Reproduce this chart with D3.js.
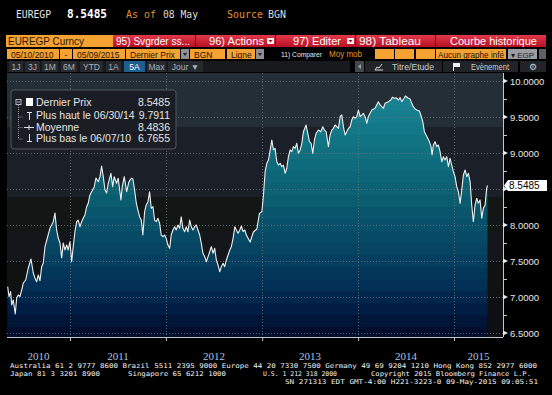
<!DOCTYPE html>
<html><head><meta charset="utf-8">
<script src="https://cdn.jsdelivr.net/npm/d3@7"></script>
<style>body{margin:0;background:#000;overflow:hidden}svg{display:block}</style>
</head><body><svg id="c" width="552" height="395"></svg>
<script>
// ---- DATA (dates as decimal years, EUR/EGP last price) ----
const dates = [
2010.351,2010.365,2010.382,2010.393,2010.409,2010.430,2010.445,2010.461,2010.479,2010.497,
2010.514,2010.539,2010.566,2010.594,2010.618,2010.635,2010.653,2010.670,2010.688,2010.705,
2010.722,2010.740,2010.768,2010.792,2010.809,2010.826,2010.844,2010.861,2010.878,2010.896,
2010.914,2010.930,2010.948,2010.966,2010.982,2011.000,2011.018,2011.034,2011.052,2011.070,
2011.086,2011.104,2011.122,2011.139,2011.156,2011.174,2011.191,2011.208,2011.226,2011.253,
2011.271,2011.295,2011.313,2011.330,2011.347,2011.365,2011.382,2011.399,2011.427,2011.445,
2011.461,2011.486,2011.503,2011.531,2011.545,2011.566,2011.591,2011.615,2011.639,2011.656,
2011.674,2011.691,2011.708,2011.726,2011.743,2011.760,2011.778,2011.795,2011.813,2011.830,
2011.847,2011.865,2011.882,2011.899,2011.917,2011.934,2011.951,2011.969,2011.986,2012.003,
2012.021,2012.039,2012.055,2012.073,2012.091,2012.107,2012.125,2012.143,2012.159,2012.177,
2012.195,2012.211,2012.229,2012.247,2012.264,2012.281,2012.299,2012.316,2012.333,2012.351,
2012.368,2012.385,2012.403,2012.420,2012.438,2012.455,2012.472,2012.490,2012.507,2012.524,
2012.542,2012.559,2012.576,2012.594,2012.611,2012.628,2012.646,2012.664,2012.680,2012.698,
2012.716,2012.732,2012.750,2012.768,2012.784,2012.802,2012.820,2012.836,2012.854,2012.875,
2012.909,2012.945,2012.972,2012.997,2013.014,2013.031,2013.049,2013.066,2013.101,2013.118,
2013.135,2013.153,2013.170,2013.188,2013.205,2013.222,2013.240,2013.257,2013.274,2013.292,
2013.309,2013.326,2013.344,2013.361,2013.378,2013.396,2013.414,2013.430,2013.458,2013.476,
2013.493,2013.510,2013.528,2013.545,2013.563,2013.586,2013.611,2013.632,2013.649,2013.667,
2013.691,2013.708,2013.726,2013.743,2013.760,2013.778,2013.795,2013.813,2013.830,2013.847,
2013.865,2013.882,2013.899,2013.917,2013.934,2013.951,2013.969,2013.986,2014.003,2014.021,
2014.039,2014.055,2014.073,2014.091,2014.107,2014.125,2014.143,2014.177,2014.211,2014.229,
2014.264,2014.281,2014.316,2014.341,2014.357,2014.375,2014.396,2014.420,2014.438,2014.455,
2014.479,2014.493,2014.524,2014.542,2014.559,2014.576,2014.594,2014.611,2014.639,2014.653,
2014.674,2014.691,2014.708,2014.726,2014.743,2014.760,2014.771,2014.784,2014.802,2014.820,
2014.836,2014.854,2014.872,2014.889,2014.906,2014.924,2014.941,2014.958,2014.976,2014.993,
2015.010,2015.028,2015.045,2015.063,2015.080,2015.097,2015.115,2015.132,2015.149,2015.167,
2015.184,2015.201,2015.219,2015.236,2015.253,2015.271,2015.289,2015.305,2015.323,2015.340,
2015.348];
const prices = [
7.143,7.004,7.074,6.889,6.958,6.766,6.986,7.028,7.004,7.097,
7.194,7.236,7.403,7.528,7.333,7.264,7.212,7.306,7.226,7.421,
7.472,7.699,7.837,7.958,8.000,8.046,8.167,7.931,7.819,7.750,
7.542,7.750,7.653,7.722,7.653,7.768,7.490,7.699,7.907,8.046,
8.069,7.976,8.046,8.097,8.139,8.254,8.306,8.417,8.462,8.532,
8.653,8.601,8.671,8.819,8.671,8.486,8.444,8.579,8.718,8.532,
8.671,8.579,8.649,8.347,8.532,8.671,8.462,8.601,8.649,8.639,
8.486,8.306,8.208,8.115,8.069,7.861,8.185,8.278,8.324,8.462,
8.232,8.254,8.069,8.046,8.093,8.024,7.861,7.837,7.861,7.815,
7.722,7.676,7.861,7.931,7.976,7.931,8.000,7.954,8.115,7.954,
7.907,7.976,7.907,8.069,7.976,7.931,7.976,8.000,7.931,7.861,
7.746,7.607,7.560,7.490,7.560,7.629,7.699,7.607,7.676,7.514,
7.444,7.351,7.421,7.468,7.421,7.514,7.583,7.653,7.699,7.815,
7.976,7.931,7.885,7.931,7.986,7.907,7.931,7.861,7.815,7.764,
7.903,7.944,8.162,8.185,8.417,8.740,8.857,8.903,9.181,9.042,
9.065,8.879,8.833,8.857,8.810,8.833,8.718,8.788,8.949,9.042,
9.018,9.088,9.065,9.135,8.996,9.042,9.135,9.296,9.389,9.274,
9.157,9.135,8.996,9.181,9.274,9.319,9.296,9.365,9.319,9.296,
9.088,9.250,9.319,9.343,9.389,9.365,9.343,9.504,9.528,9.365,
9.250,9.296,9.343,9.365,9.458,9.504,9.482,9.504,9.597,9.504,
9.528,9.551,9.504,9.413,9.504,9.551,9.597,9.621,9.713,9.667,
9.621,9.690,9.713,9.736,9.775,9.760,9.768,9.736,9.768,9.713,
9.760,9.791,9.760,9.750,9.690,9.643,9.611,9.597,9.583,9.528,
9.435,9.296,9.250,9.204,9.157,9.088,8.972,9.111,9.157,9.088,
9.111,9.018,8.879,8.949,8.903,8.949,8.810,8.926,8.833,8.740,
8.671,8.532,8.462,8.301,8.486,8.694,8.764,8.671,8.718,8.601,
8.278,8.046,8.278,8.371,8.301,8.347,8.093,8.232,8.278,8.510,
8.5485];
const yTicks = [6.5, 7.0, 7.5, 8.0, 8.5, 9.0, 9.5, 10.0];
const yMinorTicks = [6.75, 7.25, 7.75, 8.25, 8.75, 9.25, 9.75];
const yearLabels = ["2010", "2011", "2012", "2013", "2014", "2015"];
const legendLabels = ["Dernier Prix", "Plus haut le 06/30/14", "Moyenne", "Plus bas le 06/07/10"];
const legendValues = ["8.5485", "9.7911", "8.4836", "6.7655"];
const lastPrice = 8.5485;
const domainYears = [2010.344, 2015.510];

// ---- helpers ----
function toDate(t){const yr=Math.floor(t);const s=Date.UTC(yr,0,1),e=Date.UTC(yr+1,0,1);return new Date(s+(t-yr)*(e-s));}
const svg = d3.select('#c');
const UI = "'Liberation Sans', Arial, sans-serif";
const MONO = "'DejaVu Sans Mono', monospace";
function R(g,x,y,w,h,fill,o={}){const r=g.append('rect').attr('x',x).attr('y',y).attr('width',w).attr('height',h).attr('fill',fill);if(o.stroke)r.attr('stroke',o.stroke);if(o.rx)r.attr('rx',o.rx);return r;}
function T(g,x,y,s,o={}){const t=g.append('text').attr('x',x).attr('y',y).text(s)
 .attr('font-family',o.family||UI).attr('font-size',o.size||10).attr('fill',o.fill||'#fff')
 .attr('text-anchor',o.anchor||'start');if(o.weight)t.attr('font-weight',o.weight);
 if(o.len){t.attr('textLength',o.len).attr('lengthAdjust','spacingAndGlyphs');}return t;}

const defs = svg.append('defs');
const rg = defs.append('linearGradient').attr('id','red').attr('x1',0).attr('y1',0).attr('x2',0).attr('y2',1);
rg.append('stop').attr('offset',0).attr('stop-color','#e2384a');
rg.append('stop').attr('offset',1).attr('stop-color','#b80f24');

// ---- header ----
const hdr = svg.append('g');
T(hdr,16,18,'EUREGP',{family:MONO,size:11,fill:'#e6e6e6',len:35});
T(hdr,67,18,'8.5485',{family:MONO,size:11.5,fill:'#ffffff',weight:'bold',len:40});
T(hdr,126,18,'As of',{family:MONO,size:11,fill:'#e0952e',len:30});
T(hdr,163,18,'08 May',{family:MONO,size:11,fill:'#dcdcdc',len:35});
T(hdr,227,18,'Source',{family:MONO,size:11,fill:'#e0952e',len:36});
T(hdr,268,18,'BGN',{family:MONO,size:11,fill:'#dcdcdc',len:18});

// ---- toolbar row 1 ----
const tb = svg.append('g');
R(tb,6,35,107,12,'#f6a233');
T(tb,8,45,'EUREGP Curncy',{size:11.5,fill:'#2b1a04',len:76});
R(tb,113,35,433,12,'url(#red)');
[195,275,355,435].forEach(xx=>R(tb,xx,35,1,12,'#7a0a18'));
T(tb,116,45,'95) Svgrder ss...',{size:11,fill:'#fff',len:74});
T(tb,209,45,'96) Actions',{size:11,fill:'#fff',len:55});
T(tb,293,45,'97) Editer',{size:11,fill:'#fff',len:48});
[267,347].forEach(xx=>{R(tb,xx,38,7,6,'#f0f0f0');tb.append('path').attr('d',`M${xx+1.5},40 L${xx+5.5},40 L${xx+3.5},42.5Z`).attr('fill','#a01020');});
T(tb,359,45,'98) Tableau',{size:11,fill:'#fff',len:62});
T(tb,450,45,'Courbe historique',{size:11,fill:'#fff',len:87});

// ---- toolbar row 2 ----
const r2 = svg.append('g');
const orange = '#f6a233';
[[7,52,'05/10/2010'],[60,12,'-'],[73,52,'05/09/2015'],[126,54,'Dernier Prix'],[190,35,'BGN'],[227,28,'Ligne']].forEach(([xx,w,s])=>{
  R(r2,xx,49,w,10,orange);
  T(r2,s==='-'?xx+w/2:xx+4,57.5,s,{size:8.5,fill:'#1a1205',anchor:s==='-'?'middle':'start'});
});
[[181,8],[256,8]].forEach(([xx,w])=>{R(r2,xx,49,w,10,'#8c8f93');r2.append('path').attr('d',`M${xx+2},53 L${xx+6},53 L${xx+4},56Z`).attr('fill','#222');});
T(r2,281,57,'11) Comparer',{size:8,fill:'#e8e8e8',len:41});
T(r2,329,57,'Moy mob',{size:8.5,fill:'#e8952c',len:33});
[[375,19],[395,19],[416,19]].forEach(([xx,w])=>R(r2,xx,49,w,10,orange));
R(r2,436,49,70,10,orange);
T(r2,438,57.5,'Aucun graphe infé',{size:8.5,fill:'#1a1205',len:66});
R(r2,508,49,29,10,'#9a9da1');
T(r2,511,57.5,'▾ EGP',{size:8,fill:'#1a1a1a'});
R(r2,539,49,7,10,'#5d6064');

// ---- toolbar row 3 ----
const r3 = svg.append('g');
R(r3,7,61,343,11,'#17191c');
[[9,14,'1J'],[25,15,'3J'],[42,16,'1M'],[61,16,'6M'],[80,23,'YTD'],[106,15,'1A'],[124,21,'5A'],[147,19,'Max'],[168,35,'Jour ▼']].forEach(([xx,w,s])=>{
  R(r3,xx,61,w,11,s==='5A'?'#1e5d8f':'#26292d');
  T(r3,xx+w/2,69.5,s,{size:8.5,fill:s==='5A'?'#ffffff':'#a9b1b9',anchor:'middle'});
});
R(r3,355,61,9,11,'#44484d');
r3.append('path').attr('d','M361,64 L358,66.5 L361,69Z').attr('fill','#9aa0a6');
R(r3,365,61,77,11,'#202327');
r3.append('path').attr('d','M375,70 L377,67 L379,68 L382,64 M375,70 L383,70').attr('stroke','#d8d8d8').attr('fill','none').attr('stroke-width',1);
T(r3,392,69.5,'Titre/Etude',{size:8.5,fill:'#c8ccd0',len:42});
R(r3,443,61,75,11,'#202327');
r3.append('path').attr('d','M453,63 L460,63 L460,67 L454,67 L454,71 L453,71Z').attr('fill','#f0f0f0');
T(r3,471,69.5,'Evènement',{size:8.5,fill:'#c8ccd0',len:38});
R(r3,520,61,26,11,'#202327');
T(r3,533,70,'⚙',{family:"'DejaVu Sans'",size:9,fill:'#c8ccd0',anchor:'middle'});

// ---- plot ----
const PL=7, PR=503, PT=73, PB=337;
const x = d3.scaleUtc().domain(domainYears.map(toDate)).range([PL,PR]);
const y = d3.scaleLinear().domain([6.5,10]).range([333,81]);
const data = d3.zip(dates,prices).map(([t,v])=>({d:toDate(t),v}));

const plot = svg.append('g');
[[PT,127,'#242e37'],[127,197,'#1b1f27'],[197,232,'#121715'],[232,262,'#15151c'],[262,298,'#101212'],[298,PB,'#0d0f12']]
 .forEach(([a,b,c])=>R(plot,PL,a,PR-PL,b-a,c));

const area = d3.area().x(d=>x(d.d)).y0(PB).y1(d=>y(d.v));
defs.append('clipPath').attr('id','areaClip').append('path').attr('d',area(data));
const stops=[[81,'#1a8a9a'],[150,'#107180'],[205,'#0a5a6e'],[250,'#064462'],[285,'#023056'],[312,'#011b42'],[337,'#000a28']];
function fillColor(yy){for(let i=0;i<stops.length-1;i++){const[a,ca]=stops[i],[b,cb]=stops[i+1];if(yy<=b)return d3.interpolateRgb(ca,cb)(Math.max(0,(yy-a)/(b-a)));}return stops[stops.length-1][1];}
const fg = plot.append('g').attr('clip-path','url(#areaClip)');
for(let yy=75; yy<PB; yy+=12){R(fg,PL,yy,PR-PL,12,fillColor(yy+6));}

const grid = plot.append('g').attr('stroke','#66707a').attr('stroke-width',1).attr('stroke-dasharray','1,2').attr('opacity',0.85);
yTicks.forEach(v=>grid.append('line').attr('x1',PL).attr('x2',PR).attr('y1',Math.round(y(v))+0.5).attr('y2',Math.round(y(v))+0.5));
const yearStarts = x.ticks(d3.utcYear.every(1)).filter(d=>x(d)>PL+2);
yearStarts.forEach(d=>grid.append('line').attr('x1',Math.round(x(d))+0.5).attr('x2',Math.round(x(d))+0.5).attr('y1',PT).attr('y2',PB));

plot.append('path').datum(data).attr('d',d3.line().x(d=>x(d.d)).y(d=>y(d.v)))
 .attr('fill','none').attr('stroke','#f0f0f0').attr('stroke-width',1.1).attr('stroke-linejoin','round');

// ---- right axis ----
// the 8.5000 label sits under the last-price tag (hidden in the reference)
const ax = svg.append('g').attr('transform',`translate(${PR},0)`);
ax.call(d3.axisRight(y).tickValues(yTicks.filter(v=>Math.abs(y(v)-y(lastPrice))>8)).tickSize(0).tickPadding(7).tickFormat(d3.format('.4f')));
ax.select('.domain').remove();
ax.selectAll('text').attr('font-family',UI).attr('font-size',9.5).attr('fill','#e8e8e8').attr('dy','0.34em');
ax.append('line').attr('x1',0.5).attr('x2',0.5).attr('y1',PT).attr('y2',PB).attr('stroke','#c4c8cc');
yTicks.forEach(v=>ax.append('path').attr('d',`M0,${y(v)-2.5} L5,${y(v)} L0,${y(v)+2.5}Z`).attr('fill','#e8e8e8'));
const axm = svg.append('g').attr('transform',`translate(${PR},0)`);
axm.call(d3.axisRight(y).tickValues(yMinorTicks).tickSize(4).tickFormat(''));
axm.select('.domain').remove();
axm.selectAll('line').attr('stroke','#c4c8cc');
const py = y(lastPrice);
svg.append('path').attr('d',`M${PR+1},${py} L${PR+5},${py-5.5} L547,${py-5.5} L547,${py+5.5} L${PR+5},${py+5.5}Z`).attr('fill','#ffffff');
T(svg,509,py+3.8,d3.format('.4f')(lastPrice),{size:10,fill:'#000'});

// ---- bottom axis ----
const bx = svg.append('g').attr('transform',`translate(0,${PB})`);
bx.call(d3.axisBottom(x).tickValues(yearStarts).tickSize(4).tickFormat(''));
bx.select('.domain').attr('d',`M${PL},0.5H${PR}`).attr('stroke','#c4c8cc');
bx.selectAll('line').attr('stroke','#c4c8cc');
const bounds=[x.range()[0],...yearStarts.map(d=>x(d)),x.range()[1]];
yearLabels.forEach((s,i)=>T(svg,(bounds[i]+bounds[i+1])/2,359.5,s,{family:"'Liberation Serif', 'Times New Roman', serif",size:11,fill:'#a9c3e6',anchor:'middle'}));

// ---- legend ----
const lg = svg.append('g');
R(lg,11,90,165,59,'#1a1e24',{stroke:'#50565e',rx:3});
const rows=[106,118.5,130.5,142];
lg.append('path').attr('d','M18.5,105 V139 M18.5,117 H23 M18.5,127.5 H23 M18.5,139 H23').attr('stroke','#8a9098').attr('stroke-dasharray','1,1').attr('fill','none');
R(lg,16,99.5,5,5,'none',{stroke:'#b0b6bc'});
lg.append('line').attr('x1',17).attr('x2',20).attr('y1',102).attr('y2',102).attr('stroke','#b0b6bc');
R(lg,26,98,7,8,'#ffffff');
lg.append('path').attr('d','M27,112.5 H32 M29.5,112.5 V120').attr('stroke','#e0e0e0').attr('fill','none');
lg.append('path').attr('d','M24,127.5 H34 M29,125 V130').attr('stroke','#e0e0e0').attr('fill','none');
lg.append('path').attr('d','M29.5,134 V141.5 M27,141.5 H32').attr('stroke','#e0e0e0').attr('fill','none');
legendLabels.forEach((s,i)=>{
  T(lg,36,rows[i],s,{size:10.5,fill:'#e4e4e4'});
  T(lg,170,rows[i],legendValues[i],{size:10.5,fill:'#e4e4e4',anchor:'end'});
});

// ---- footer ----
const ft = svg.append('g');
const FO={family:MONO,size:6.5,fill:'#f2f2f2'};
T(ft,10,368,'Australia 61 2 9777 8600 Brazil 5511 2395 9000 Europe 44 20 7330 7500 Germany 49 69 9204 1210 Hong Kong 852 2977 6000',{...FO,len:527});
T(ft,10,376,'Japan 81 3 3201 8900',{...FO,len:90});
T(ft,128,376,'Singapore 65 6212 1000',{...FO,len:98});
T(ft,263,376,'U.S. 1 212 318 2000',{...FO,len:74});
T(ft,371,376,'Copyright 2015 Bloomberg Finance L.P.',{...FO,len:160});
T(ft,285,383.5,'SN 271313 EDT  GMT-4:00 H221-3223-0 09-May-2015 09:05:51',{...FO,len:253});
</script></body></html>
